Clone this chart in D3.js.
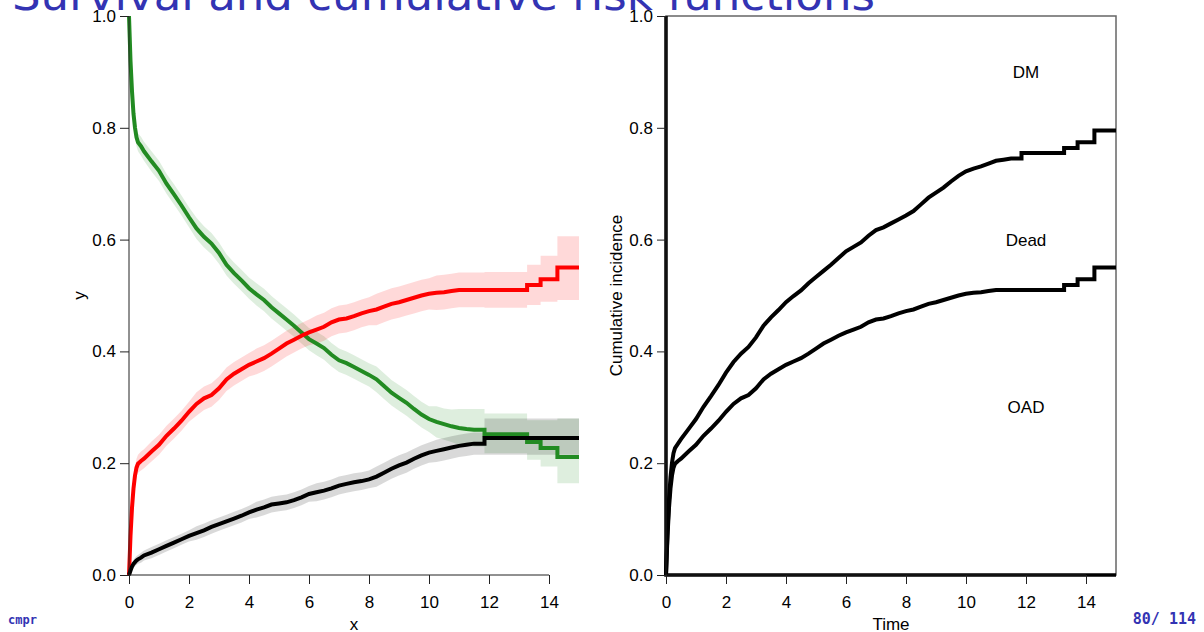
<!DOCTYPE html>
<html>
<head>
<meta charset="utf-8">
<script src="https://cdn.jsdelivr.net/npm/d3@7/dist/d3.min.js"></script>
<style>
  body { margin: 0; background: #fff; }
  svg { display: block; }
</style>
</head>
<body>
<svg id="chart" width="1204" height="632"></svg>
<script>
// time grid (years) shared by all curves
var times = [0, 0.05, 0.1, 0.15, 0.2, 0.25, 0.3, 0.4, 0.5,
             0.75, 1, 1.25, 1.5, 1.75, 2,
             2.25, 2.5, 2.75, 3, 3.25, 3.5, 3.75, 4,
             4.25, 4.5, 4.75, 5, 5.25, 5.5, 5.75, 6,
             6.25, 6.5, 6.75, 7, 7.25, 7.5, 7.75, 8,
             8.25, 8.5, 8.75, 9, 9.25, 9.5, 9.75, 10,
             10.25, 10.5, 10.75, 11, 11.25, 11.5,
             11.85, 13.27, 13.72, 14.28, 15];

// cumulative risk of DM (red)
var dmRisk = [0, 0.07, 0.12, 0.155, 0.178, 0.192, 0.199, 0.204, 0.208,
              0.221, 0.233, 0.249, 0.262, 0.276, 0.292,
              0.306, 0.316, 0.322, 0.334, 0.350, 0.360, 0.368, 0.376,
              0.382, 0.388, 0.396, 0.405, 0.414, 0.421, 0.428, 0.434,
              0.439, 0.444, 0.452, 0.457, 0.459, 0.463, 0.468, 0.472,
              0.475, 0.480, 0.485, 0.488, 0.492, 0.496, 0.500, 0.503,
              0.505, 0.506, 0.508, 0.510, 0.510, 0.510,
              0.510, 0.519, 0.529, 0.550, 0.550];
var dmDn = [0, 0.008, 0.012, 0.014, 0.015, 0.016, 0.016, 0.017, 0.017,
            0.018, 0.018, 0.018, 0.018, 0.018, 0.018,
            0.021, 0.021, 0.021, 0.021, 0.021, 0.021, 0.021, 0.021,
            0.023, 0.023, 0.023, 0.023, 0.023, 0.023, 0.023, 0.023,
            0.025, 0.025, 0.025, 0.025, 0.025, 0.025, 0.025, 0.025,
            0.028, 0.028, 0.028, 0.028, 0.028, 0.028, 0.028, 0.028,
            0.031, 0.031, 0.031, 0.031, 0.031, 0.031,
            0.032, 0.036, 0.040, 0.058, 0.058];
var dmUp = [0, 0.008, 0.012, 0.014, 0.015, 0.016, 0.016, 0.017, 0.017,
            0.018, 0.018, 0.018, 0.018, 0.018, 0.018,
            0.021, 0.021, 0.021, 0.021, 0.021, 0.021, 0.021, 0.021,
            0.023, 0.023, 0.023, 0.023, 0.023, 0.023, 0.023, 0.023,
            0.025, 0.025, 0.025, 0.025, 0.025, 0.025, 0.025, 0.025,
            0.028, 0.028, 0.028, 0.028, 0.028, 0.028, 0.028, 0.028,
            0.031, 0.031, 0.031, 0.031, 0.031, 0.031,
            0.032, 0.036, 0.042, 0.056, 0.056];

// cumulative risk of death (black)
var deadRisk = [0, 0.008, 0.015, 0.020, 0.023, 0.026, 0.028, 0.031, 0.035,
                0.040, 0.046, 0.052, 0.058, 0.064, 0.070,
                0.075, 0.080, 0.086, 0.091, 0.096, 0.101, 0.106, 0.112,
                0.117, 0.121, 0.126, 0.128, 0.130, 0.134, 0.139, 0.145,
                0.148, 0.151, 0.155, 0.160, 0.163, 0.166, 0.168, 0.171,
                0.176, 0.183, 0.190, 0.196, 0.201, 0.208, 0.214, 0.219,
                0.222, 0.225, 0.228, 0.231, 0.233, 0.235,
                0.245, 0.245, 0.245, 0.245, 0.245];
var deadDn = [0, 0.004, 0.006, 0.007, 0.008, 0.008, 0.008, 0.009, 0.009,
              0.010, 0.010, 0.010, 0.010, 0.010, 0.010,
              0.012, 0.012, 0.012, 0.012, 0.012, 0.012, 0.012, 0.012,
              0.014, 0.014, 0.014, 0.014, 0.014, 0.014, 0.014, 0.014,
              0.016, 0.016, 0.016, 0.016, 0.016, 0.016, 0.016, 0.016,
              0.018, 0.018, 0.018, 0.018, 0.018, 0.018, 0.018, 0.018,
              0.020, 0.020, 0.020, 0.020, 0.020, 0.020,
              0.030, 0.030, 0.030, 0.030, 0.030];
var deadUp = [0, 0.004, 0.006, 0.007, 0.008, 0.008, 0.008, 0.009, 0.009,
              0.010, 0.010, 0.010, 0.010, 0.010, 0.010,
              0.012, 0.012, 0.012, 0.012, 0.012, 0.012, 0.012, 0.012,
              0.014, 0.014, 0.014, 0.014, 0.014, 0.014, 0.014, 0.014,
              0.016, 0.016, 0.016, 0.016, 0.016, 0.016, 0.016, 0.016,
              0.018, 0.018, 0.018, 0.018, 0.018, 0.018, 0.018, 0.018,
              0.020, 0.020, 0.020, 0.020, 0.020, 0.020,
              0.035, 0.035, 0.035, 0.035, 0.035];

// survival in OAD state (green)
var oadSurv = [1, 0.92, 0.865, 0.825, 0.800, 0.783, 0.774, 0.767, 0.758,
               0.740, 0.723, 0.700, 0.681, 0.661, 0.640,
               0.620, 0.605, 0.593, 0.576, 0.555, 0.540, 0.527, 0.513,
               0.502, 0.492, 0.479, 0.468, 0.457, 0.446, 0.434, 0.422,
               0.414, 0.406, 0.394, 0.384, 0.379, 0.372, 0.365, 0.358,
               0.350, 0.338, 0.326, 0.317, 0.308, 0.297, 0.287, 0.279,
               0.274, 0.270, 0.266, 0.263, 0.261, 0.260,
               0.252, 0.238, 0.227, 0.211, 0.211];
var oadDn = [0, 0.008, 0.012, 0.014, 0.015, 0.016, 0.016, 0.017, 0.017,
             0.018, 0.018, 0.018, 0.018, 0.018, 0.018,
             0.019, 0.019, 0.019, 0.019, 0.019, 0.019, 0.019, 0.019,
             0.020, 0.020, 0.020, 0.020, 0.020, 0.020, 0.020, 0.020,
             0.021, 0.021, 0.021, 0.021, 0.021, 0.021, 0.021, 0.021,
             0.023, 0.023, 0.023, 0.023, 0.023, 0.023, 0.023, 0.023,
             0.028, 0.028, 0.028, 0.030, 0.030, 0.030,
             0.034, 0.032, 0.033, 0.047, 0.047];
var oadUp = [0, 0.008, 0.012, 0.014, 0.015, 0.016, 0.016, 0.017, 0.017,
             0.018, 0.018, 0.018, 0.018, 0.018, 0.018,
             0.019, 0.019, 0.019, 0.019, 0.019, 0.019, 0.019, 0.019,
             0.020, 0.020, 0.020, 0.020, 0.020, 0.020, 0.020, 0.020,
             0.021, 0.021, 0.021, 0.021, 0.021, 0.021, 0.021, 0.021,
             0.023, 0.023, 0.023, 0.023, 0.023, 0.023, 0.023, 0.023,
             0.028, 0.028, 0.030, 0.034, 0.036, 0.037,
             0.037, 0.039, 0.050, 0.069, 0.069];

var xTicks = [0, 2, 4, 6, 8, 10, 12, 14];
var yTicks = [0, 0.2, 0.4, 0.6, 0.8, 1.0];
var stateLabels = ['OAD', 'Dead', 'DM'];
var stateLabelAt = [[12, 0.3], [12, 0.6], [12, 0.9]];

var titleText = 'Survival and cumulative risk functions';
var footLeft = 'cmpr', footRight = '80/ 114';

var blue = '#3333b3'
  , fontFam = '"Liberation Sans", Arial, Helvetica, sans-serif'
  , stepGap = 0.3   // gaps wider than this are drawn as flat steps
  , svg = d3.select('#chart');

var yScale = d3.scaleLinear().domain([0, 1]).range([575, 16]);
var xLeft  = d3.scaleLinear().domain([0, 15]).range([129, 579]);
var xRight = d3.scaleLinear().domain([0, 15]).range([666, 1116]);

// the dense part of the estimate reads as a fine staircase (drawn straight),
// the sparse tail as proper steps
function stepify(pts) {
  var out = [];
  pts.forEach(function(p, i) {
    out.push(p);
    var nx = pts[i + 1];
    if (nx && nx.t - p.t > stepGap) {
      out.push(Object.assign({}, p, { t: nx.t }));
    }
  });
  return out;
}

function rows(est, dn, up) {
  return stepify(times.map(function(t, i) {
    return { t: t, v: est[i], lo: est[i] - dn[i], hi: est[i] + up[i] };
  }));
}
var series = [
  { key: 'oad',  color: '#228b22', data: rows(oadSurv, oadDn, oadUp) },
  { key: 'dm',   color: '#ff0000', data: rows(dmRisk, dmDn, dmUp) },
  { key: 'dead', color: '#000000', data: rows(deadRisk, deadDn, deadUp) }
];

function drawAxes(x, xlab, ylab) {
  var g = svg.append('g').style('color', '#222');

  var ay = g.append('g')
    .attr('transform', 'translate(' + x(0) + ',0)')
    .call(d3.axisLeft(yScale).tickValues(yTicks)
            .tickFormat(d3.format('.1f')).tickSize(9).tickPadding(4));
  ay.select('.domain').remove();
  ay.append('line')
    .attr('y1', yScale(yTicks[0])).attr('y2', yScale(yTicks[yTicks.length - 1]))
    .attr('stroke', 'currentColor');

  var ax = g.append('g')
    .attr('transform', 'translate(0,' + yScale(0) + ')')
    .call(d3.axisBottom(x).tickValues(xTicks).tickSize(9).tickPadding(12));
  ax.select('.domain').remove();
  ax.append('line')
    .attr('x1', x(xTicks[0])).attr('x2', x(xTicks[xTicks.length - 1]))
    .attr('stroke', 'currentColor');

  [ax, ay].forEach(function(a) {
    a.attr('font-size', 17).attr('font-family', fontFam);
    a.selectAll('text').attr('fill', '#000');
  });

  g.append('text')
    .attr('font-size', 17).attr('font-family', fontFam)
    .attr('x', (x.range()[0] + x.range()[1]) / 2).attr('y', 630)
    .attr('text-anchor', 'middle').text(xlab);
  g.append('text')
    .attr('font-size', 17).attr('font-family', fontFam)
    .attr('transform', 'translate(' + (x(0) - 44) + ',' + ((yScale(0) + yScale(1)) / 2) + ') rotate(-90)')
    .attr('text-anchor', 'middle').text(ylab);
}

// ---- left panel: survival + cumulative risks with bands
var band = d3.area()
  .x(function(d) { return xLeft(d.t); })
  .y0(function(d) { return yScale(d.lo); })
  .y1(function(d) { return yScale(d.hi); });
var lineL = d3.line()
  .x(function(d) { return xLeft(d.t); })
  .y(function(d) { return yScale(d.v); });

var left = svg.append('g');
left.selectAll('.band').data(series).enter().append('path')
  .attr('class', 'band')
  .attr('d', function(s) { return band(s.data); })
  .attr('fill', function(s) { return s.color; })
  .attr('fill-opacity', 0.15);
left.selectAll('.curve').data(series).enter().append('path')
  .attr('class', 'curve')
  .attr('d', function(s) { return lineL(s.data); })
  .attr('fill', 'none')
  .attr('stroke', function(s) { return s.color; })
  .attr('stroke-width', 4);

drawAxes(xLeft, 'x', 'y');

// ---- right panel: stacked cumulative incidence
var stacked = d3.stack().keys(['dm', 'dead'])(times.map(function(t, i) {
  return { t: t, dm: dmRisk[i], dead: deadRisk[i] };
}));
var lineR = d3.line()
  .x(function(d) { return xRight(d.t); })
  .y(function(d) { return yScale(d.v); });

var right = svg.append('g');
right.append('rect')
  .attr('x', xRight(0)).attr('y', yScale(1))
  .attr('width', xRight(15) - xRight(0)).attr('height', yScale(0) - yScale(1))
  .attr('fill', 'none').attr('stroke', '#666').attr('stroke-width', 1.5);

drawAxes(xRight, 'Time', 'Cumulative incidence');

right.append('path')
  .attr('d', d3.line()([[xRight(0), yScale(1)], [xRight(0), yScale(0)], [xRight(15), yScale(0)]]))
  .attr('fill', 'none').attr('stroke', '#000').attr('stroke-width', 3.5);
right.selectAll('.cif').data(stacked).enter().append('path')
  .attr('class', 'cif')
  .attr('d', function(layer) {
    return lineR(stepify(layer.map(function(d) { return { t: d.data.t, v: d[1] }; })));
  })
  .attr('fill', 'none').attr('stroke', '#000').attr('stroke-width', 4);

right.selectAll('.lab').data(stateLabels).enter().append('text')
  .attr('class', 'lab')
  .attr('x', function(d, i) { return xRight(stateLabelAt[i][0]); })
  .attr('y', function(d, i) { return yScale(stateLabelAt[i][1]); })
  .attr('dy', '0.35em')
  .attr('text-anchor', 'middle')
  .attr('font-family', fontFam).attr('font-size', 17)
  .text(function(d) { return d; });

// ---- slide title and footer
svg.append('text')
  .attr('x', 12).attr('y', 10)
  .attr('font-family', '"DejaVu Sans", sans-serif').attr('font-size', 42)
  .attr('textLength', 863).attr('lengthAdjust', 'spacingAndGlyphs')
  .attr('fill', blue).text(titleText);

svg.append('text')
  .attr('x', 8).attr('y', 624)
  .attr('font-family', '"DejaVu Sans Mono", monospace').attr('font-weight', 'bold')
  .attr('font-size', 12).attr('fill', blue).text(footLeft);
svg.append('text')
  .attr('x', 1196).attr('y', 624).attr('text-anchor', 'end')
  .attr('font-family', '"DejaVu Sans Mono", monospace').attr('font-weight', 'bold')
  .attr('font-size', 15).attr('fill', blue).text(footRight);
</script>
</body>
</html>
